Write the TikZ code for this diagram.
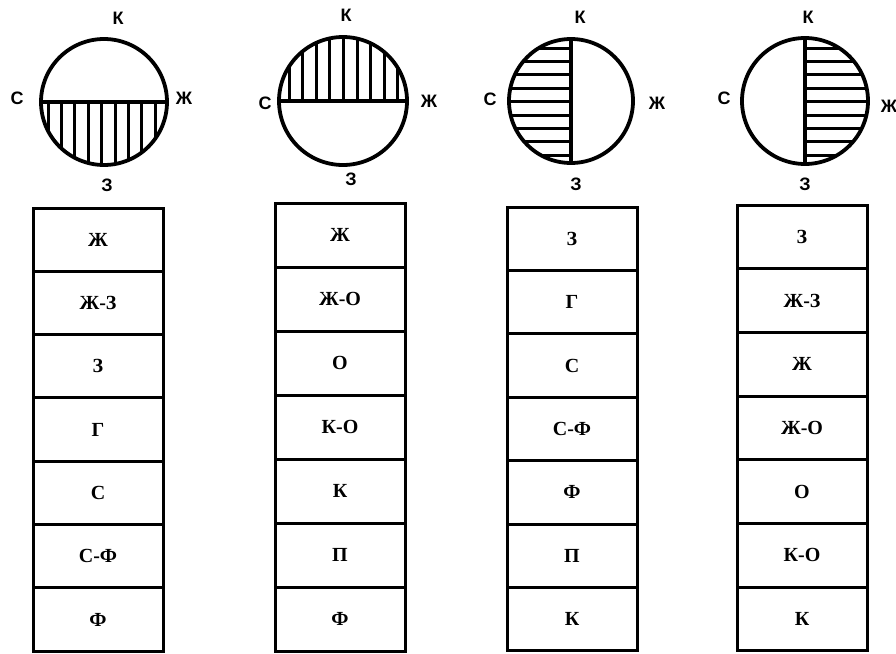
\documentclass[tikz,border=0pt]{standalone}
\usepackage{fontspec}
\setmainfont{Liberation Serif}
\newfontfamily\lblfont{Liberation Sans}
\begin{document}
\begin{tikzpicture}[x=1pt,y=-1pt,
  box/.style={draw, line width=3pt, minimum width=130pt, minimum height=#1, inner sep=0pt,
    font=\bfseries\fontsize{20}{20}\selectfont},
  lbl/.style={font=\lblfont\bfseries\fontsize{18}{18}\selectfont, inner sep=0pt},
  disk/.style={circle, draw, line width=3.8pt, inner sep=0pt, minimum size=#1},
  rim/.style={line width=3.8pt},
  hatch/.style={line width=3pt}]
\useasboundingbox (0,0) rectangle (896,653);

% ---------- circle 1 ----------
\begin{scope}
  \clip (104,102) circle[radius=63pt];
  \clip (30,100) rectangle (180,175);
  \foreach \x in {48,61.4,...,162} \draw[hatch] (\x,95) -- (\x,175);
\end{scope}
\node[disk=126pt] (k1) at (104,102) {};
\draw[rim] (k1.west) -- (k1.east);
\node[lbl] (k1n) at (118,18) {К};
\node[lbl] (k1w) at (17,98) {С};
\node[lbl] (k1e) at (184,98) {Ж};
\node[lbl] (k1s) at (107,185) {З};

% ---------- circle 2 ----------
\begin{scope}
  \clip (343,101) circle[radius=64pt];
  \clip (270,30) rectangle (420,101);
  \foreach \x in {289,302.6,...,402} \draw[hatch] (\x,30) -- (\x,108);
\end{scope}
\node[disk=128pt] (k2) at (343,101) {};
\draw[rim] (k2.west) -- (k2.east);
\node[lbl] (k2n) at (346,15) {К};
\node[lbl] (k2w) at (265,103) {С};
\node[lbl] (k2e) at (429,101) {Ж};
\node[lbl] (k2s) at (351,179) {З};

% ---------- circle 3 ----------
\begin{scope}
  \clip (571,101) circle[radius=62pt];
  \clip (500,30) rectangle (571,175);
  \foreach \y in {48,61.4,...,162} \draw[hatch] (500,\y) -- (580,\y);
\end{scope}
\node[disk=124pt] (k3) at (571,101) {};
\draw[rim] (k3.north) -- (k3.south);
\node[lbl] (k3n) at (580,17) {К};
\node[lbl] (k3w) at (490,99) {С};
\node[lbl] (k3e) at (657,103) {Ж};
\node[lbl] (k3s) at (576,184) {З};

% ---------- circle 4 ----------
\begin{scope}
  \clip (805,101) circle[radius=63pt];
  \clip (805,30) rectangle (880,175);
  \foreach \y in {48,61.4,...,162} \draw[hatch] (795,\y) -- (880,\y);
\end{scope}
\node[disk=126pt] (k4) at (805,101) {};
\draw[rim] (k4.north) -- (k4.south);
\node[lbl] (k4n) at (808,17) {К};
\node[lbl] (k4w) at (724,98) {С};
\node[lbl] (k4e) at (889,106) {Ж};
\node[lbl] (k4s) at (805,184) {З};

% ---------- box columns ----------
\foreach \t [count=\i] in {Ж,Ж-З,З,Г,С,С-Ф,Ф}
  \node[box=63.3pt] (a\i) at (98,{208+63.3*\i-31.65}) {\t};
\foreach \t [count=\i] in {Ж,Ж-О,О,К-О,К,П,Ф}
  \node[box=64pt] (b\i) at (340,{203+64*\i-32}) {\t};
\foreach \t [count=\i] in {З,Г,С,С-Ф,Ф,П,К}
  \node[box=63.4pt] (c\i) at (572,{207+63.4*\i-31.7}) {\t};
\foreach \t [count=\i] in {З,Ж-З,Ж,Ж-О,О,К-О,К}
  \node[box=63.7pt] (d\i) at (802,{205+63.7*\i-31.85}) {\t};
\end{tikzpicture}
\end{document}
